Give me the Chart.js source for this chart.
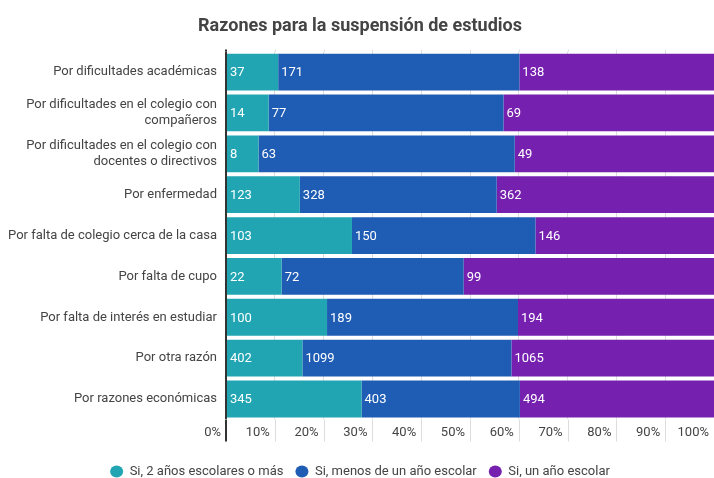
<!DOCTYPE html>
<html>
<head>
<meta charset="utf-8">
<script src="https://cdn.jsdelivr.net/npm/chart.js@4/dist/chart.umd.min.js"></script>
<style>
  html, body { margin: 0; padding: 0; background: #fff; }
  #wrap { width: 714px; height: 478px; }
</style>
</head>
<body>
<div id="wrap"><canvas id="reasons" width="714" height="478"></canvas></div>
<script>
const categories = [
  'Por dificultades académicas',
  ['Por dificultades en el colegio con', 'compañeros'],
  ['Por dificultades en el colegio con', 'docentes o directivos'],
  'Por enfermedad',
  'Por falta de colegio cerca de la casa',
  'Por falta de cupo',
  'Por falta de interés en estudiar',
  'Por otra razón',
  'Por razones económicas'
]

const seriesNames = ['Si, 2 años escolares o más', 'Si, menos de un año escolar', 'Si, un año escolar']
const twoOrMore = [37, 14, 8, 123, 103, 22, 100, 402, 345]
const lessThanOne = [171, 77, 63, 328, 150, 72, 189, 1099, 403]
const oneYear = [138, 69, 49, 362, 146, 99, 194, 1065, 494]
const seriesColors = ['#21a5b2', '#1f5cb3', '#7620af']

// stacked to 100%: each bar is the share of its row total
const rowTotals = twoOrMore.map((v, i) => v + lessThanOne[i] + oneYear[i])
const toPercent = (arr) => arr.map((v, i) => v / rowTotals[i] * 100)

const rawSeries = [twoOrMore, lessThanOne, oneYear]

// draws the raw counts at the start of each bar segment
const startLabels = {
  id: 'startLabels',
  afterDatasetsDraw(chart) {
    const ctx = chart.ctx
    ctx.save()
    ctx.font = '13px Roboto'
    ctx.fillStyle = '#ffffff'
    ctx.textAlign = 'left'
    ctx.textBaseline = 'middle'
    chart.data.datasets.forEach((ds, di) => {
      chart.getDatasetMeta(di).data.forEach((bar, i) => {
        ctx.fillText(String(ds.raw[i]), bar.base + 3, bar.y + 1)
      })
    })
    ctx.restore()
  }
}

// grid lines keep going down beside the % labels (and a touch above the plot)
const gridTails = {
  id: 'gridTails',
  beforeDatasetsDraw(chart) {
    const x = chart.scales.x
    const ctx = chart.ctx
    const area = chart.chartArea
    ctx.save()
    x.ticks.forEach((t) => {
      const px = x.getPixelForValue(t.value)
      const zero = t.value === 0
      ctx.strokeStyle = zero ? '#333' : '#dddddd'
      ctx.lineWidth = zero ? 2 : 1
      const ax = zero ? Math.round(px) : Math.round(px) + 0.5
      ctx.beginPath()
      ctx.moveTo(ax, area.top - 2)
      ctx.lineTo(ax, area.top)
      ctx.moveTo(ax, area.bottom)
      ctx.lineTo(ax, area.bottom + 22)
      ctx.stroke()
    })
    ctx.restore()
  }
}

const ctx = document.getElementById('reasons').getContext('2d')

new Chart(ctx, {
  type: 'bar',
  plugins: [gridTails, startLabels],
  data: {
    labels: categories,
    datasets: rawSeries.map((arr, i) => ({
      label: seriesNames[i],
      data: toPercent(arr),
      raw: arr,
      backgroundColor: seriesColors[i],
      borderWidth: 0,
      barPercentage: 1,
      categoryPercentage: 0.9
    }))
  },
  options: {
    indexAxis: 'y',
    responsive: false,
    animation: false,
    layout: { padding: { left: 0, right: -6, top: 0, bottom: -10 } },
    plugins: {
      title: {
        display: true,
        text: 'Razones para la suspensión de estudios',
        color: '#444',
        font: { family: 'Roboto', size: 18, weight: 'bold' },
        padding: { top: 16, bottom: 14 }
      },
      legend: {
        position: 'bottom',
        title: { display: true, text: '', font: { size: 5 }, padding: 0 },
        labels: {
          usePointStyle: true,
          pointStyle: 'circle',
          boxHeight: 8.5,
          pointStyleWidth: 13,
          color: '#444',
          font: { family: 'Roboto', size: 13 },
          padding: 12
        }
      },
      tooltip: { enabled: false }
    },
    scales: {
      x: {
        stacked: true,
        min: 0,
        max: 100,
        border: { display: false },
        grid: {
          drawTicks: false,
          color: (c) => (c.tick && c.tick.value === 0) ? '#333' : '#dddddd',
          lineWidth: (c) => (c.tick && c.tick.value === 0) ? 2 : 1
        },
        ticks: {
          stepSize: 10,
          align: 'end',
          labelOffset: -5,
          padding: 0,
          maxRotation: 0,
          autoSkip: false,
          color: '#444',
          font: { family: 'Roboto', size: 13, lineHeight: 2.12 },
          callback: (v) => v + '%'
        }
      },
      y: {
        stacked: true,
        border: { display: false },
        grid: { display: false, drawTicks: false },
        afterFit: (scale) => { scale.width = 226 },
        ticks: {
          padding: 9,
          color: '#444',
          font: { family: 'Roboto', size: 13 }
        }
      }
    }
  }
})
</script>
</body>
</html>
